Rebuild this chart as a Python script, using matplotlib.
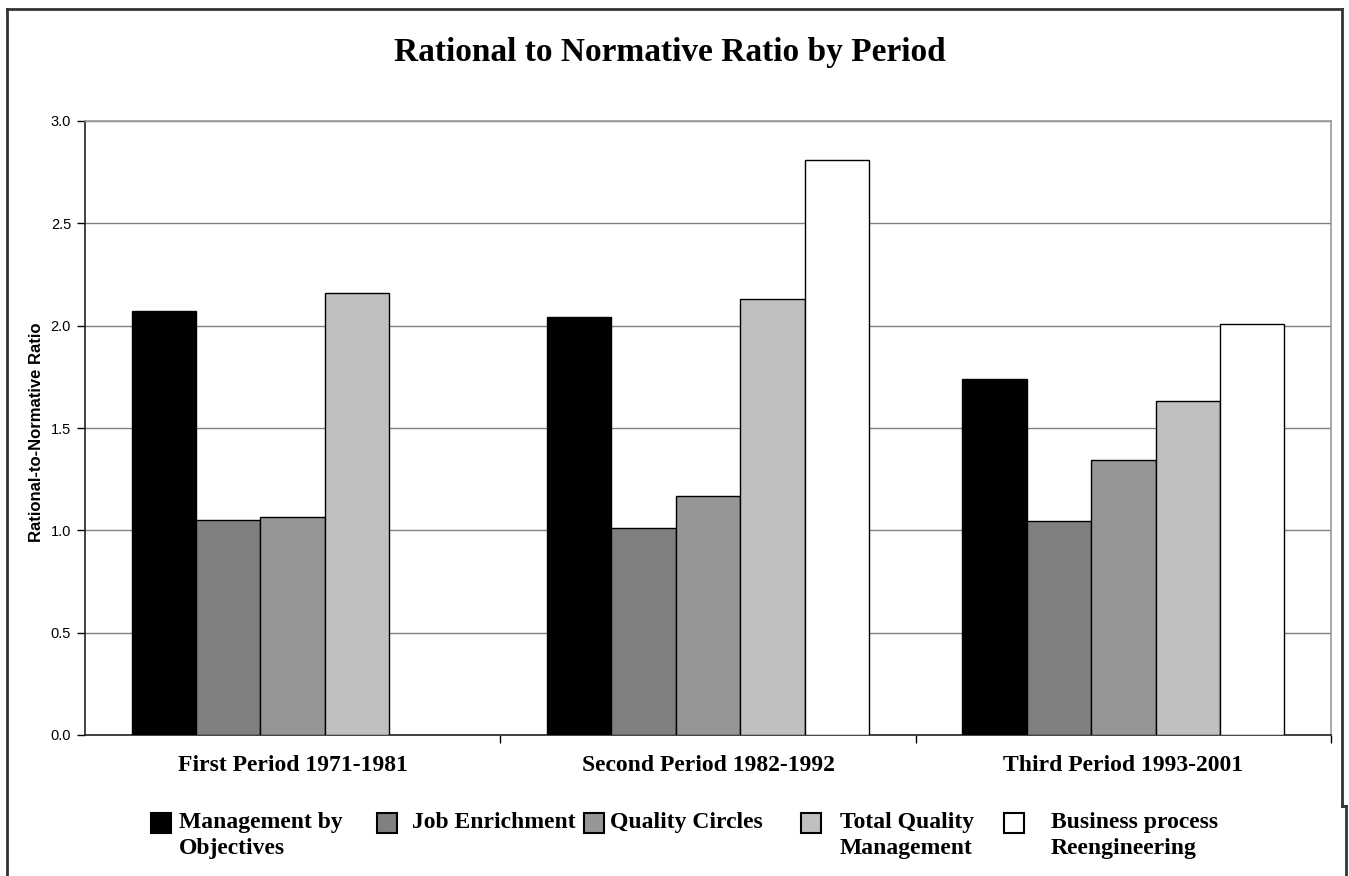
import matplotlib
matplotlib.use("Agg")
import matplotlib.pyplot as plt
from matplotlib.lines import Line2D
from matplotlib.patches import Rectangle
import numpy as np

# Data
periods = ["First Period 1971-1981", "Second Period 1982-1992", "Third Period 1993-2001"]
series_names = ["Management by\nObjectives", "Job Enrichment", "Quality Circles",
                "Total Quality\nManagement", "Business process\nReengineering"]
mbo = [2.07, 2.04, 1.74]
job_enrichment = [1.05, 1.01, 1.045]
quality_circles = [1.065, 1.17, 1.345]
tqm = [2.16, 2.13, 1.63]
bpr = [0.0, 2.81, 2.01]
colors = ["#000000", "#808080", "#969696", "#c0c0c0", "#ffffff"]

serif = ["Liberation Serif", "DejaVu Serif"]
sans = ["Liberation Sans", "DejaVu Sans"]

W, H = 1349, 876
fig = plt.figure(figsize=(W / 100, H / 100), dpi=100)
ax = fig.add_axes([85 / W, 1 - 735 / H, (1331 - 85) / W, (735 - 121) / H])

x = np.arange(len(periods))
width = 0.155
all_series = [mbo, job_enrichment, quality_circles, tqm, bpr]
for i, vals in enumerate(all_series):
    heights = np.array(vals)
    mask = heights > 0
    ax.bar(x[mask] + (i - 2) * width, heights[mask], width=width, color=colors[i],
           edgecolor="black", linewidth=1.0, zorder=3)

ax.set_xlim(-0.5, 2.5)
ax.set_ylim(0, 3.0)
ax.set_yticks(np.arange(0, 3.01, 0.5))
ax.set_yticklabels([f"{v:.1f}" for v in np.arange(0, 3.01, 0.5)], fontfamily=sans, fontsize=10.5)
ax.yaxis.grid(True, color="#808080", linewidth=1.0, zorder=0)
ax.tick_params(axis="y", length=6, width=1, pad=4, direction="out")

ax.set_xticks(x)
ax.set_xticklabels(periods, fontfamily=serif, fontweight="bold", fontsize=17)
ax.tick_params(axis="x", which="major", length=0, pad=14.5)
ax.set_xticks([0.5, 1.5, 2.5], minor=True)
ax.tick_params(axis="x", which="minor", length=6, width=1, direction="out")

for side in ["left", "bottom"]:
    ax.spines[side].set_color("#222222")
    ax.spines[side].set_linewidth(1.2)
for side in ["top", "right"]:
    ax.spines[side].set_color("#999999")
    ax.spines[side].set_linewidth(1.2)

fig.text(37 / W, 1 - 432 / H, "Rational-to-Normative Ratio", rotation=90, ha="center", va="center",
         fontfamily=sans, fontweight="bold", fontsize=12)

fig.text(670 / W, 1 - 53 / H, "Rational to Normative Ratio by Period", ha="center", va="center",
         fontfamily=serif, fontweight="bold", fontsize=24)

# Legend, laid out like the original
handle_x = [151, 377, 584, 801, 1004]
text_x = [179, 412, 610, 840, 1051]
for i, name in enumerate(series_names):
    fig.patches.append(Rectangle((handle_x[i] / W, 1 - 833 / H), 20 / W, 20 / H,
                                 transform=fig.transFigure, facecolor=colors[i],
                                 edgecolor="black", linewidth=1.5))
    fig.text(text_x[i] / W, 1 - 812 / H, name, ha="left", va="top", fontfamily=serif,
             fontweight="bold", fontsize=17, linespacing=1.33)

# Outer frame of the original figure
frame = dict(color="#333333", linewidth=2, transform=fig.transFigure)
fig.add_artist(Line2D([7 / W, 1342 / W], [1 - 9 / H, 1 - 9 / H], **frame))
fig.add_artist(Line2D([7 / W, 7 / W], [1 - 9 / H, 0], **frame))
fig.add_artist(Line2D([1342 / W, 1342 / W], [1 - 9 / H, 1 - 806 / H], **frame))
fig.add_artist(Line2D([1342 / W, 1346 / W], [1 - 806 / H, 1 - 806 / H], **frame))
fig.add_artist(Line2D([1346 / W, 1346 / W], [1 - 806 / H, 0], **frame))

fig.savefig("out.png", dpi=100)
